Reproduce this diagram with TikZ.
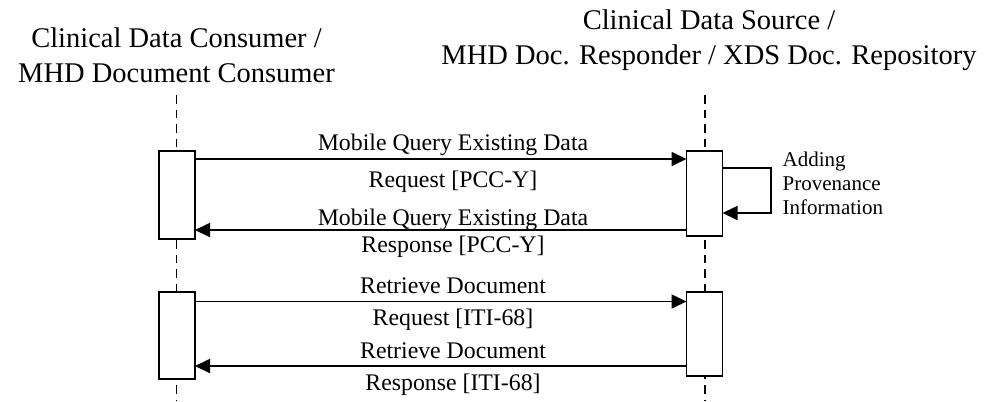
\documentclass[tikz,border=0pt]{standalone}
\usepackage{fontspec}
\setmainfont{Liberation Serif}
\usetikzlibrary{arrows.meta}
\begin{document}
\begin{tikzpicture}[x=1pt,y=-1pt,
  lifeline/.style={line width=1.5pt, dash pattern=on 8.5pt off 6pt},
  actbox/.style={draw, fill=white, line width=1.8pt, inner sep=0pt, outer sep=0pt, minimum width=36pt},
  msg/.style={line width=1.7pt, -{Triangle[length=15pt,width=14pt]}},
  hdr/.style={align=center, font=\fontsize{28.5}{35}\selectfont},
  lbl/.style={font=\fontsize{23.8}{28}\selectfont, inner sep=0pt, anchor=base},
  note/.style={align=left, font=\fontsize{21}{24}\selectfont, inner sep=0pt}
]
\useasboundingbox (0,0) rectangle (989,402);
% headers
\node[hdr] (hc) at (176.5,55) {Clinical Data Consumer /\\MHD Document Consumer};
\node[hdr] (hs) at (709,40) {Clinical Data Source /\\MHD Doc. Responder / XDS Doc. Repository};
% lifelines
\coordinate (lc) at (176.5,95);
\coordinate (lce) at (176.5,400);
\coordinate (ls) at (705,95);
\coordinate (lse) at (705,400);
\draw[lifeline] (lc) -- (lce);
\draw[lifeline] (ls) -- (lse);
% activation boxes
\node[actbox, minimum height=88pt] (lb1) at (177,195) {};
\node[actbox, minimum height=85pt] (rb1) at (704.5,193.5) {};
\node[actbox, minimum height=87pt] (lb2) at (177,335.5) {};
\node[actbox, minimum height=84pt] (rb2) at (704.5,334) {};
% messages
\draw[msg] (lb1.east |- 0,159) -- (rb1.west |- 0,159);
\draw[msg] (rb1.west |- 0,230) -- (lb1.east |- 0,230);
\draw[msg] (lb2.east |- 0,301.5) -- (rb2.west |- 0,301.5);
\draw[msg] (rb2.west |- 0,366) -- (lb2.east |- 0,366);
% self message
\coordinate (s1) at (771,168);
\coordinate (s2) at (771,213);
\draw[msg] (rb1.east |- s1) -- (s1) -- (s2) -- (rb1.east |- s2);
% labels
\node[lbl] (m1a) at (453,150.5) {Mobile Query Existing Data};
\node[lbl] (m1b) at (453,187) {Request [PCC-Y]};
\node[lbl] (m2a) at (453,225) {Mobile Query Existing Data};
\node[lbl] (m2b) at (453,252.5) {Response [PCC-Y]};
\node[lbl] (m3a) at (453,293) {Retrieve Document};
\node[lbl] (m3b) at (453,325) {Request [ITI-68]};
\node[lbl] (m4a) at (453,358) {Retrieve Document};
\node[lbl] (m4b) at (453,390) {Response [ITI-68]};
\node[note, anchor=north west] (np) at (782.5,152) {Adding\\Provenance\\Information};
\end{tikzpicture}
\end{document}
